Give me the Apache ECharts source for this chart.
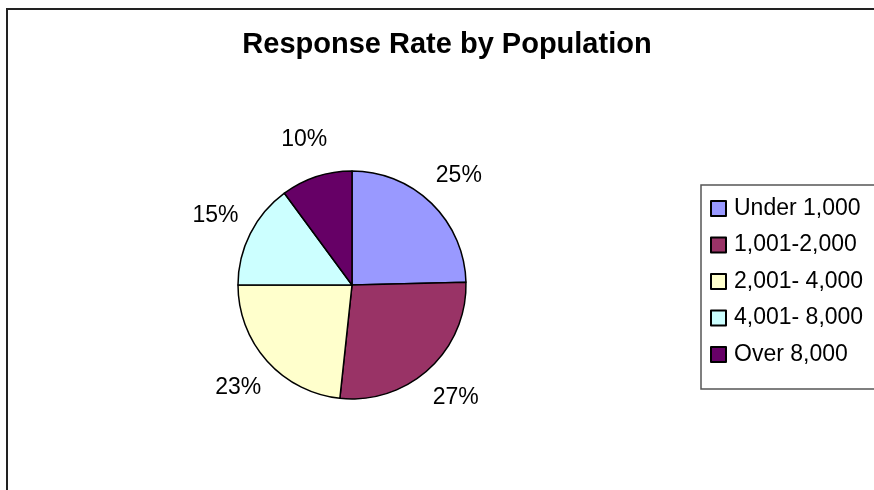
<!DOCTYPE html>
<html>
<head>
<meta charset="utf-8">
<script src="https://cdn.jsdelivr.net/npm/echarts@6/dist/echarts.min.js"></script>
<style>
html,body{margin:0;padding:0;background:#fff;}
#chart{width:874px;height:490px;}
</style>
</head>
<body>
<div id="chart"></div>
<script>
const titleText = 'Response Rate by Population';
const categories = ['Under 1,000', '1,001-2,000', '2,001- 4,000', '4,001- 8,000', 'Over 8,000'];
const values = [24.6, 27.1, 23.3, 14.9, 10.1];
const colors = ['#9999FF', '#993366', '#FFFFCC', '#CCFFFF', '#660066'];

const FONT = '"Liberation Sans", Arial, sans-serif';
const pieData = categories.map((c, i) => ({ name: c, value: values[i], itemStyle: { color: colors[i] } }));

const chart = echarts.init(document.getElementById('chart'), null, { renderer: 'canvas' });
chart.setOption({
  animation: false,
  backgroundColor: '#ffffff',
  title: {
    text: titleText,
    left: 447,
    top: 30,
    padding: 0,
    textAlign: 'center',
    textStyle: { fontFamily: FONT, fontSize: 29, fontWeight: 'bold', color: '#000' }
  },
  graphic: [{
    type: 'rect', z: -10, silent: true,
    shape: { x: 7, y: 9, width: 1000, height: 1000 },
    style: { fill: 'none', stroke: '#222', lineWidth: 2 }
  }],
  legend: {
    orient: 'vertical',
    left: 701,
    top: 185,
    data: categories,
    icon: 'rect',
    itemWidth: 15,
    itemHeight: 15,
    itemGap: 13.5,
    padding: [12, 30, 23, 9],
    borderColor: '#555',
    borderWidth: 1.5,
    textStyle: { fontFamily: FONT, fontSize: 23, color: '#000', padding: [0, 0, 0, 3] }
  },
  series: [{
    type: 'pie',
    center: [352, 285],
    radius: 114,
    startAngle: 90,
    clockwise: true,
    label: { show: false },
    labelLine: { show: false },
    itemStyle: { borderColor: '#000', borderWidth: 1.5 },
    emphasis: { disabled: true },
    data: pieData
  }, {
    type: 'pie',
    center: [352, 285],
    radius: [138, 162],
    startAngle: 90,
    clockwise: true,
    silent: true,
    legendHoverLink: false,
    itemStyle: { color: 'rgba(0,0,0,0)', borderWidth: 0 },
    label: {
      show: true,
      position: 'inside',
      fontFamily: FONT,
      fontSize: 23,
      color: '#000',
      formatter: p => Math.round(p.percent) + '%'
    },
    labelLine: { show: false },
    emphasis: { disabled: true },
    data: categories.map((c, i) => ({ name: c, value: values[i] }))
  }]
});
</script>
</body>
</html>
